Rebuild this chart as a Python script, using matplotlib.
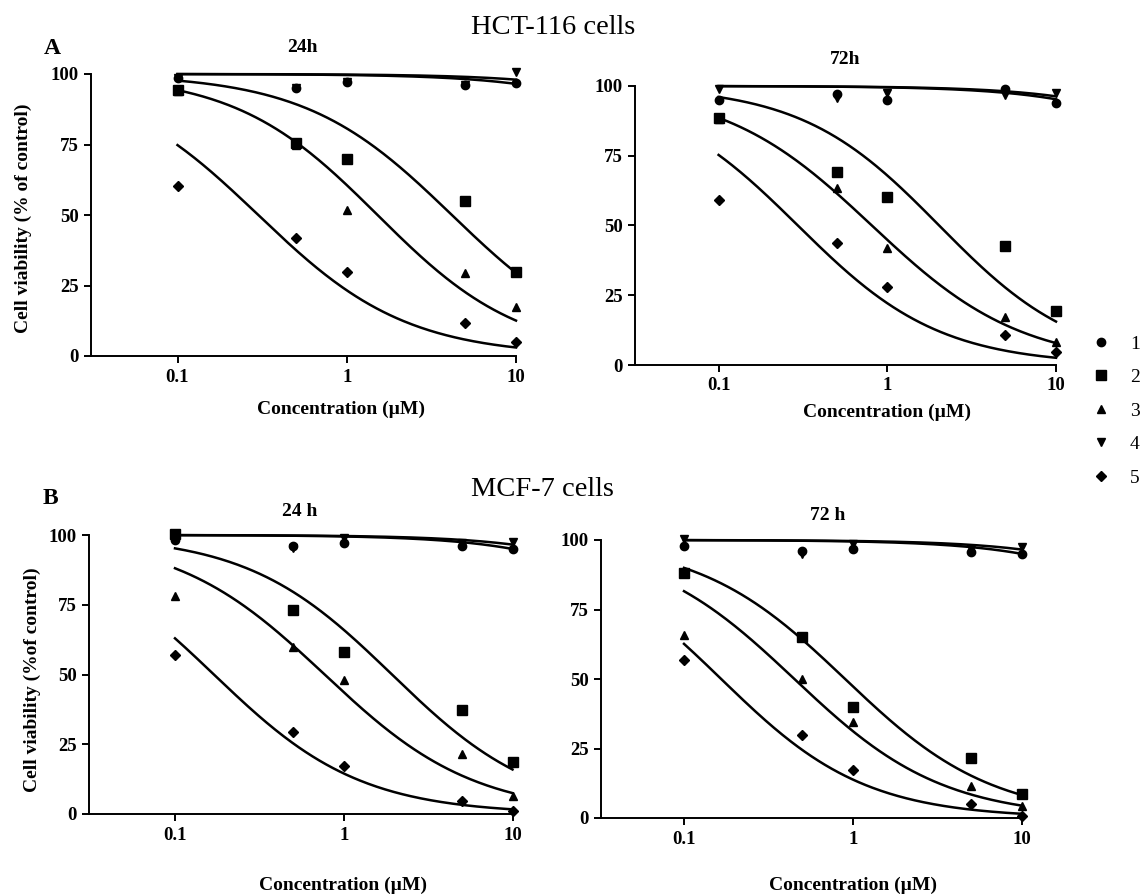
import numpy as np
import matplotlib.pyplot as plt
from matplotlib.lines import Line2D
from matplotlib.ticker import NullLocator

plt.rcParams['font.family'] = ['Liberation Serif', 'DejaVu Serif']

W, H = 1145, 894

conc = [0.1, 0.5, 1, 5, 10]
series = ['1', '2', '3', '4', '5']
markers = ['o', 's', '^', 'v', 'D']
msizes = [6, 6.5, 6, 6, 5.5]

# cell viability (% of control), one row per compound 1..5
hct_24 = [[98.5, 95.0, 97.3, 96.0, 96.7],
          [94.5, 75.4, 70.0, 54.8, 29.7],
          [94.0, 75.0, 51.8, 29.3, 17.5],
          [98.5, 95.0, 97.3, 96.0, 100.8],
          [60.3, 41.7, 29.9, 11.6, 4.8]]
hct_72 = [[95.0, 97.2, 95.0, 99.0, 94.0],
          [88.4, 69.3, 60.1, 42.8, 19.5],
          [88.0, 63.3, 41.8, 17.3, 8.4],
          [98.8, 95.6, 97.6, 96.8, 97.6],
          [59.1, 43.8, 27.8, 10.8, 4.8]]
mcf_24 = [[98.2, 96.1, 97.0, 96.1, 94.9],
          [100.2, 73.2, 58.0, 37.4, 18.5],
          [78.0, 60.0, 47.9, 21.5, 6.6],
          [99.5, 95.2, 99.0, 97.0, 97.6],
          [57.0, 29.4, 17.3, 4.8, 1.0]]
mcf_72 = [[98.0, 96.2, 96.8, 95.8, 94.8],
          [88.2, 65.0, 39.8, 21.5, 8.6],
          [65.8, 49.9, 34.4, 11.6, 4.4],
          [100.4, 95.0, 98.6, 96.8, 97.4],
          [56.9, 29.7, 17.3, 5.0, 0.8]]

# fitted dose-response curves (IC50 in uM, Hill slope)
hct_24_ic50 = [275, 4.18, 1.52, 490, 0.30]
hct_24_hill = [1.0, 1.0, 1.03, 1.0, 0.99]
hct_72_ic50 = [200, 2.03, 0.81, 260, 0.295]
hct_72_hill = [1.0, 1.06, 0.98, 1.0, 1.03]
mcf_24_ic50 = [190, 1.93, 0.77, 280, 0.17]
mcf_24_hill = [1.0, 1.01, 0.98, 1.0, 1.0]
mcf_72_ic50 = [190, 0.898, 0.45, 280, 0.166]
mcf_72_hill = [1.0, 1.0, 0.99, 1.0, 1.02]


def fit_curve(x, ic50, hill):
    return 100 / (1 + (x / ic50) ** hill)


def fx(px):
    return px / W


def fy(py):
    return 1 - py / H


def panel(left, right, top, bottom, tick01, data, ic50, hill):
    ax = fig.add_axes([fx(left), fy(bottom), fx(right - left), (bottom - top) / H])
    decade = (right - tick01) / 2
    ax.set_xscale('log')
    ax.set_xlim(0.1 / 10 ** ((tick01 - left) / decade), 10)
    ax.set_ylim(0, 100)
    xs = np.logspace(-1, 1, 200)
    order = [2, 3, 1, 0, 4]
    for i in order:
        ax.plot(xs, fit_curve(xs, ic50[i], hill[i]), color='k', lw=1.8,
                clip_on=False, zorder=2)
        ax.plot(conc, data[i], linestyle='none', marker=markers[i],
                markersize=msizes[i], color='k', clip_on=False, zorder=3)
    for s in ['top', 'right']:
        ax.spines[s].set_visible(False)
    for s in ['left', 'bottom']:
        ax.spines[s].set_linewidth(1.4)
    ax.set_xticks([0.1, 1, 10])
    ax.set_xticklabels(['0.1', '1', '10'])
    ax.xaxis.set_minor_locator(NullLocator())
    ax.set_yticks([0, 25, 50, 75, 100])
    ax.tick_params(direction='out', length=5, width=1.4, labelsize=13.5, pad=4)
    for lbl in ax.get_xticklabels() + ax.get_yticklabels():
        lbl.set_fontweight('bold')
    return ax


fig = plt.figure(figsize=(W / 100, H / 100), dpi=100)

panel(91, 516, 74, 356, 177.5, hct_24, hct_24_ic50, hct_24_hill)
panel(635, 1056, 86, 365, 718.6, hct_72, hct_72_ic50, hct_72_hill)
panel(89, 512.5, 535, 814, 175, mcf_24, mcf_24_ic50, mcf_24_hill)
panel(601, 1022, 540, 818, 684, mcf_72, mcf_72_ic50, mcf_72_hill)

fig.text(fx(553), fy(27), 'HCT-116 cells', ha='center', va='center', fontsize=20.5)
fig.text(fx(542), fy(490), 'MCF-7 cells', ha='center', va='center', fontsize=20.5)
fig.text(fx(52), fy(48), 'A', ha='center', va='center', fontsize=17, fontweight='bold')
fig.text(fx(50), fy(498), 'B', ha='center', va='center', fontsize=17, fontweight='bold')

fig.text(fx(302), fy(48), '24h', ha='center', va='center', fontsize=14, fontweight='bold')
fig.text(fx(845), fy(59), '72h', ha='center', va='center', fontsize=14, fontweight='bold')
fig.text(fx(300), fy(512), '24 h', ha='center', va='center', fontsize=14, fontweight='bold')
fig.text(fx(828), fy(515), '72 h', ha='center', va='center', fontsize=14, fontweight='bold')

for x, y in [(341, 409), (887, 412), (343, 885), (853, 885)]:
    fig.text(fx(x), fy(y), 'Concentration (\u00b5M)', ha='center', va='center',
             fontsize=14, fontweight='bold')

fig.text(fx(23), fy(218), 'Cell viability (% of control)', ha='center', va='center',
         rotation=90, fontsize=14, fontweight='bold')
fig.text(fx(32), fy(680), 'Cell viability (%of control)', ha='center', va='center',
         rotation=90, fontsize=14, fontweight='bold')

handles = [Line2D([], [], color='k', linestyle='none', marker=m, markersize=ms)
           for m, ms in zip(markers, msizes)]
fig.legend(handles, series, loc='upper left', bbox_to_anchor=(fx(1091), fy(335)),
           frameon=False, handlelength=1, handletextpad=1.0, labelspacing=0.82,
           borderpad=0, borderaxespad=0, fontsize=14)

fig.savefig('out.png', dpi=100)
